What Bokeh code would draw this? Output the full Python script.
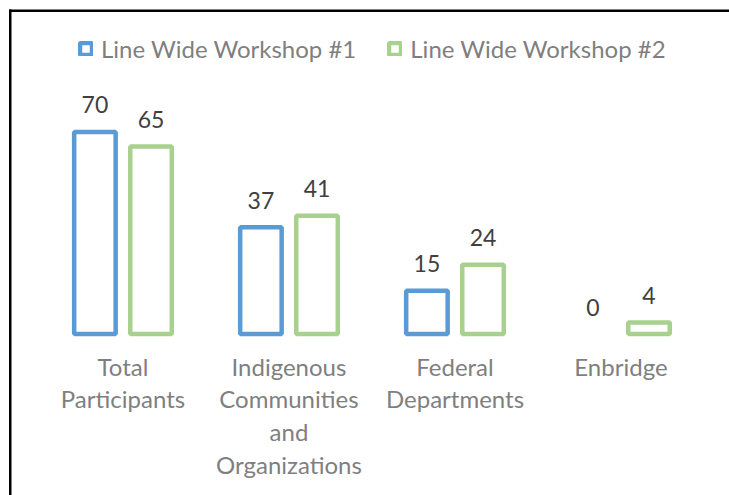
from bokeh.plotting import figure
from bokeh.models import ColumnDataSource, FactorRange, Range1d, Legend, LegendItem, BoxAnnotation
from bokeh.transform import dodge
from bokeh.core.properties import value
from bokeh.embed import file_html
from bokeh.resources import INLINE

categories = ["Total Participants", "Indigenous Communities and Organizations",
              "Federal Departments", "Enbridge"]
category_labels = ["Total\nParticipants", "Indigenous\nCommunities\nand\nOrganizations",
                   "Federal\nDepartments", "Enbridge"]
series_names = ["Line Wide Workshop #1", "Line Wide Workshop #2"]
workshop1 = [70, 37, 15, 0]
workshop2 = [65, 41, 24, 4]

BLUE = "#5b9bd5"
GREEN = "#a9d18e"
FONT = "Lato"
SHIFT = 0.042      # small horizontal offset of the whole group layout
OFF = 0.169        # half distance between the two bars of a group

src = ColumnDataSource(dict(
    cat=categories,
    label=category_labels,
    w1=workshop1,
    w2=workshop2,
    w1_txt=[str(v) for v in workshop1],
    w2_txt=[str(v) for v in workshop2],
    w1_alpha=[0 if v == 0 else 1 for v in workshop1],
    w2_alpha=[0 if v == 0 else 1 for v in workshop2],
))

W, H = 729, 495
p = figure(width=W, height=H, output_backend="svg", toolbar_location=None,
           x_range=FactorRange(factors=categories, range_padding=0.1958,
                               range_padding_units="absolute"),
           y_range=Range1d(-55.96, 115.56),
           min_border=0, min_border_left=0, min_border_right=0,
           min_border_top=0, min_border_bottom=0)
p.axis.visible = False
p.grid.visible = False
p.outline_line_color = None
p.outline_line_alpha = 0
p.background_fill_color = "white"
p.border_fill_color = "white"

# chart-area border: only the left and top edges fall inside the picture
SCR = dict(left_units="screen", right_units="screen",
           top_units="screen", bottom_units="screen")
p.add_layout(BoxAnnotation(left=8.5, right=11.0, top=H - 9.0, bottom=0,
                           fill_color="black", fill_alpha=1,
                           line_color=None, line_alpha=0, **SCR))
p.add_layout(BoxAnnotation(left=8.5, right=W, top=H - 9.0, bottom=H - 11.5,
                           fill_color="black", fill_alpha=1,
                           line_color=None, line_alpha=0, **SCR))

r1 = p.vbar(x=dodge("cat", SHIFT - OFF, range=p.x_range), top="w1", bottom=0, width=0.25,
            source=src, fill_color="white", line_color=BLUE, line_width=4.5,
            line_alpha="w1_alpha")
r2 = p.vbar(x=dodge("cat", SHIFT + OFF, range=p.x_range), top="w2", bottom=0, width=0.25,
            source=src, fill_color="white", line_color=GREEN, line_width=4.5,
            line_alpha="w2_alpha")

for col, txt, off in (("w1", "w1_txt", SHIFT - OFF), ("w2", "w2_txt", SHIFT + OFF)):
    p.text(x=dodge("cat", off, range=p.x_range), y=col, text=txt, source=src,
           text_font=value(FONT), text_font_size="23px", text_color="#404040",
           text_align="center", text_baseline="middle", y_offset=-27)

p.text(x=dodge("cat", SHIFT, range=p.x_range), y=0, text="label", source=src,
       text_font=value(FONT), text_font_size="24px", text_color="#7f7f7f",
       text_align="center", text_baseline="top", y_offset=17.5,
       text_line_height=1.13)

legend = Legend(items=[LegendItem(label=series_names[0], renderers=[r1], index=0),
                       LegendItem(label=series_names[1], renderers=[r2], index=0)],
                orientation="horizontal", location=(78, 432),
                label_text_font=FONT, label_text_font_size="24px",
                label_text_color="#7f7f7f", glyph_width=15, glyph_height=15,
                label_standoff=8, spacing=31, padding=0, margin=0,
                border_line_color=None, background_fill_alpha=0)
p.add_layout(legend)

open("out.html", "w").write(file_html(p, INLINE))
